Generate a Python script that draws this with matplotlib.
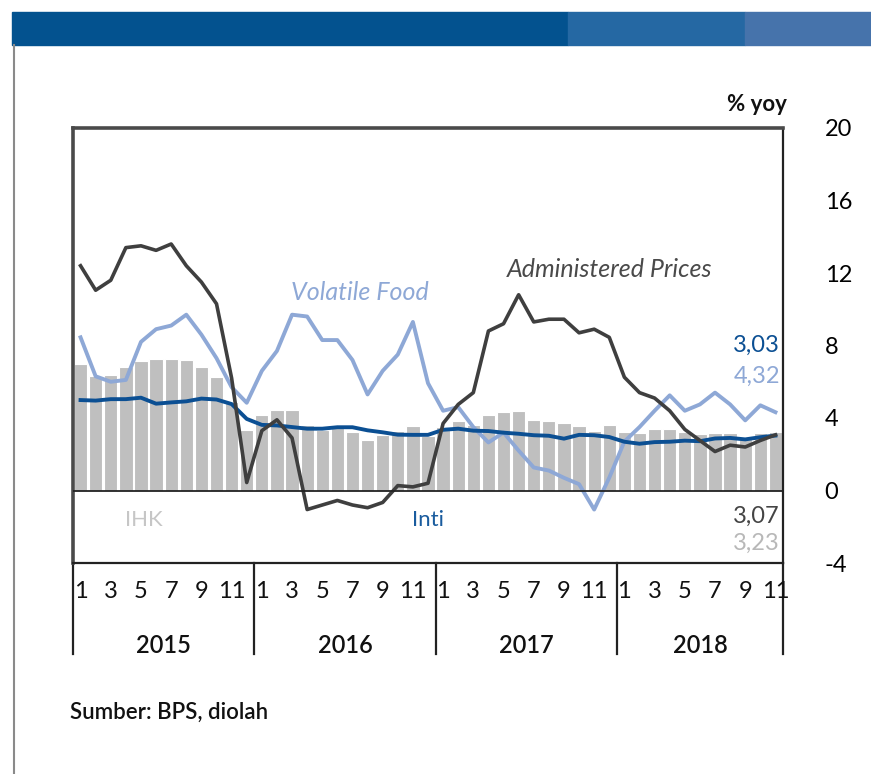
import matplotlib
matplotlib.use("Agg")
import matplotlib.pyplot as plt
import matplotlib.transforms as mtransforms
from matplotlib.patches import Rectangle
from matplotlib.lines import Line2D
import numpy as np

plt.rcParams['font.family'] = ['Lato', 'DejaVu Sans']

# monthly yoy inflation, Jan 2015 - Nov 2018
ihk = [6.96, 6.29, 6.38, 6.79, 7.15, 7.26, 7.26, 7.18, 6.83, 6.25, 4.89, 3.35,
       4.14, 4.42, 4.45, 3.60, 3.33, 3.45, 3.21, 2.79, 3.07, 3.31, 3.58, 3.02,
       3.49, 3.83, 3.61, 4.17, 4.33, 4.37, 3.88, 3.82, 3.72, 3.58, 3.30, 3.61,
       3.25, 3.18, 3.40, 3.41, 3.23, 3.12, 3.18, 3.20, 2.88, 3.16, 3.23]
inti = [4.99, 4.96, 5.04, 5.04, 5.12, 4.79, 4.86, 4.92, 5.07, 5.02, 4.77, 3.95,
        3.62, 3.59, 3.50, 3.41, 3.41, 3.49, 3.49, 3.32, 3.21, 3.08, 3.07, 3.07,
        3.35, 3.41, 3.30, 3.28, 3.19, 3.13, 3.05, 3.02, 2.86, 3.07, 3.05, 2.95,
        2.69, 2.58, 2.67, 2.69, 2.75, 2.72, 2.87, 2.90, 2.82, 2.94, 3.03]
volatile_food = [8.45, 6.3, 6.0, 6.1, 8.2, 8.9, 9.1, 9.7, 8.6, 7.3, 5.7, 4.84,
                 6.6, 7.7, 9.7, 9.6, 8.3, 8.3, 7.2, 5.3, 6.6, 7.5, 9.3, 5.92,
                 4.4, 4.6, 3.5, 2.65, 3.2, 2.2, 1.27, 1.1, 0.7, 0.35, -1.05, 0.71,
                 2.7, 3.5, 4.4, 5.25, 4.4, 4.75, 5.4, 4.75, 3.87, 4.7, 4.32]
administered = [12.4, 11.05, 11.6, 13.4, 13.5, 13.25, 13.6, 12.4, 11.5, 10.3, 6.2, 0.44,
                3.3, 3.9, 2.9, -1.05, -0.8, -0.55, -0.8, -0.95, -0.66, 0.27, 0.2, 0.4,
                3.7, 4.75, 5.4, 8.8, 9.2, 10.8, 9.3, 9.45, 9.45, 8.7, 8.9, 8.45,
                6.25, 5.4, 5.1, 4.4, 3.37, 2.76, 2.15, 2.5, 2.4, 2.76, 3.07]
months = [1, 2, 3, 4, 5, 6, 7, 8, 9, 10, 11, 12] * 3 + [1, 2, 3, 4, 5, 6, 7, 8, 9, 10, 11]
years = ['2015', '2016', '2017', '2018']
yticks = [-4, 0, 4, 8, 12, 16, 20]

W, H = 871, 774
fig = plt.figure(figsize=(W / 100, H / 100), dpi=100)

# header band
fig.patches.append(Rectangle((12 / W, 1 - 45 / H), (568 - 12) / W, 33 / H,
                             transform=fig.transFigure, color='#03528f', zorder=0))
fig.patches.append(Rectangle((568 / W, 1 - 45 / H), (745 - 568) / W, 33 / H,
                             transform=fig.transFigure, color='#2568a3', zorder=0))
fig.patches.append(Rectangle((745 / W, 1 - 45 / H), (W - 745) / W, 33 / H,
                             transform=fig.transFigure, color='#4673ab', zorder=0))
fig.lines.append(Line2D([13.5 / W, 13.5 / W], [0, 1 - 45 / H], transform=fig.transFigure,
                        color='#8a8a8a', lw=1.5))

ax = fig.add_axes([73 / W, 1 - 563 / H, 710 / W, 435 / H])
x = np.arange(len(ihk))

ax.bar(x, ihk, width=0.88, color='#bfbfbf', edgecolor='white', linewidth=0.8, zorder=1)
ax.plot(x, inti, color='#0b4f93', lw=2.8, zorder=3, solid_joinstyle='round')
ax.plot(x, volatile_food, color='#8ea8d6', lw=2.8, zorder=2, solid_joinstyle='round')
ax.plot(x, administered, color='#3f3f3f', lw=2.6, zorder=4, solid_joinstyle='round')
ax.axhline(0, color='#222222', lw=1.3, zorder=5)

ax.set_xlim(-0.5, len(ihk) - 0.5)
ax.set_ylim(-4, 20)
ax.yaxis.tick_right()
ax.set_yticks(yticks)
ax.set_yticklabels([str(t) for t in yticks], fontsize=17)
ax.tick_params(axis='y', length=0, pad=30)
ax.set_xticks([])
for side in ['top', 'left']:
    ax.spines[side].set_linewidth(2.6)
    ax.spines[side].set_color('#4a4a4a')
for side in ['right', 'bottom']:
    ax.spines[side].set_linewidth(1.6)
    ax.spines[side].set_color('#222222')

ax.text(1.005, 1.03, '% yoy', transform=ax.transAxes, ha='right', va='bottom',
        fontsize=16, fontweight='bold', color='#111111')

# x axis: month labels, year labels, separators
trans = mtransforms.blended_transform_factory(ax.transData, ax.transAxes)
for i, m in enumerate(months):
    if m % 2 == 1:
        ax.text(i, -0.065, str(m), transform=trans, ha='center', va='center',
                fontsize=17, color='#111111')
for k, yr in enumerate(years):
    n = min(12, len(ihk) - 12 * k)
    ax.text(12 * k + (n - 1) / 2, -0.19, yr, transform=trans, ha='center', va='center',
            fontsize=17, fontweight='semibold', color='#111111')
for b in [-0.5, 11.5, 23.5, 35.5, len(ihk) - 0.5]:
    ax.plot([b, b], [0, -0.21], transform=trans, color='#222222', lw=1.6, clip_on=False)

# series labels
ax.text(18.5, 10.9, 'Volatile Food', fontsize=18, style='italic', color='#8ea8d6',
        ha='center', va='center')
ax.text(35.0, 12.2, 'Administered Prices', fontsize=18, style='italic', color='#4a4a4a',
        ha='center', va='center')
ax.text(4.2, -1.6, 'IHK', fontsize=16, color='#c6c6c6', ha='center', va='center')
ax.text(23.0, -1.6, 'Inti', fontsize=16, color='#1a5c9e', ha='center', va='center')
ax.text(46.3, 8.0, '3,03', fontsize=17, color='#0b4f93', ha='right', va='center')
ax.text(46.3, 6.3, '4,32', fontsize=17, color='#8ea8d6', ha='right', va='center')
ax.text(46.3, -1.4, '3,07', fontsize=17, color='#444444', ha='right', va='center')
ax.text(46.3, -2.9, '3,23', fontsize=17, color='#b8b8b8', ha='right', va='center')

fig.text(70 / W, 1 - 712 / H, 'Sumber: BPS, diolah', fontsize=16, fontweight='semibold',
         color='#111111', ha='left', va='center')

fig.savefig('out.png', dpi=100)
